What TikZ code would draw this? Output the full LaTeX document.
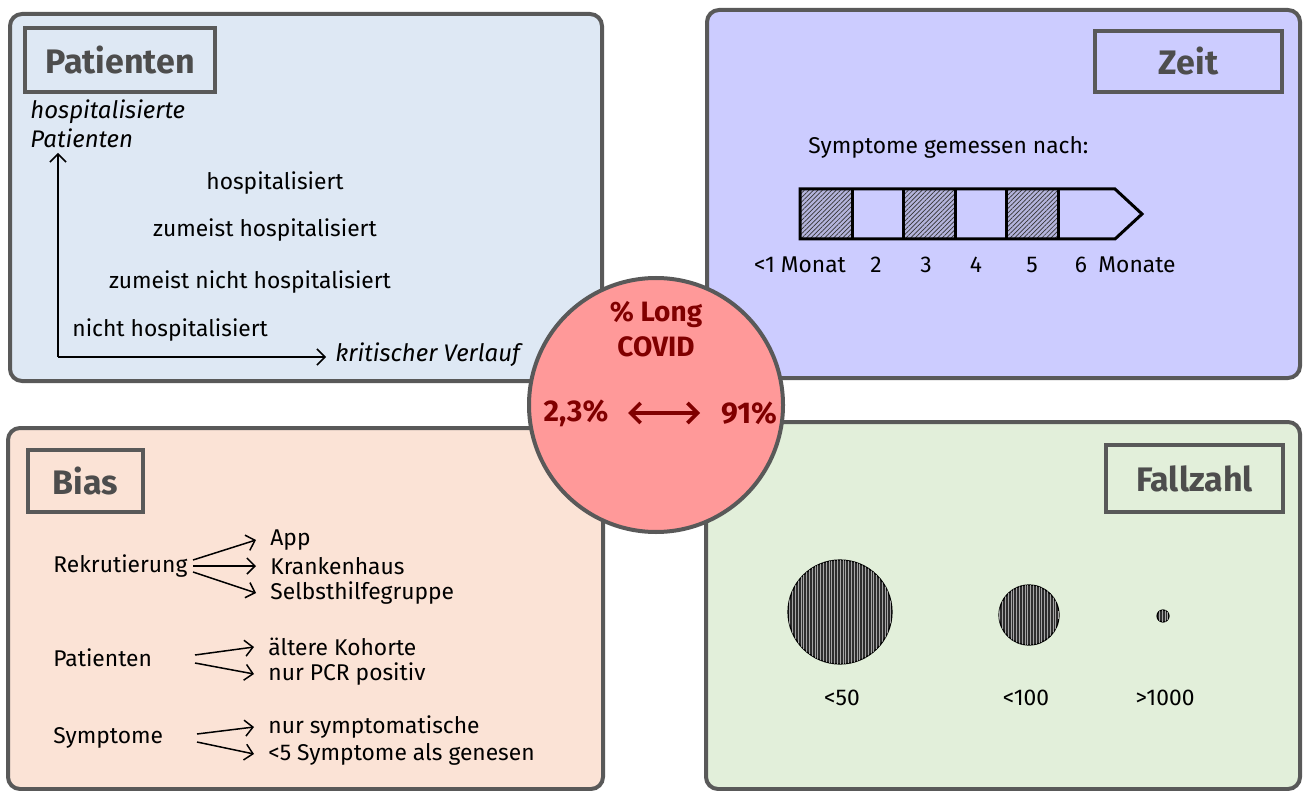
\documentclass[tikz,border=0pt]{standalone}
\usepackage{fontspec}
\setmainfont{Fira Sans}
\usetikzlibrary{patterns.meta,arrows.meta}
\definecolor{frame}{HTML}{595959}
\definecolor{pblue}{HTML}{DEE8F4}
\definecolor{pviolet}{HTML}{CCCCFF}
\definecolor{ppeach}{HTML}{FBE3D6}
\definecolor{pgreen}{HTML}{E2EFDA}
\definecolor{cred}{HTML}{FF9999}
\definecolor{dred}{HTML}{800000}
\definecolor{tgray}{HTML}{4D4D4D}
\definecolor{hatchfill}{HTML}{B4B4DC}
\tikzset{
  panel/.style={draw=frame, line width=2pt, rounded corners=6pt},
  titlebox/.style={draw=frame, line width=2pt, text=tgray, font=\fontsize{17}{20}\selectfont\bfseries, inner sep=0pt},
  txt/.style={font=\fontsize{11.4}{13}\selectfont, inner sep=0pt},
  itxt/.style={font=\fontsize{12}{14}\selectfont\itshape, inner sep=0pt},
  arr/.style={line width=0.75pt, -{Straight Barb[length=4pt,width=8pt]}},
  ctxt/.style={font=\fontsize{14}{16}\selectfont\bfseries, text=dred, inner sep=0pt},
  cell/.style={line width=1.5pt},
  hatch/.style={fill=hatchfill, postaction={pattern={Lines[angle=45,distance=1.6pt,line width=0.35pt]}, pattern color=black!80}},
  dotcirc/.style={circle, draw=black, line width=0.6pt, fill=black!82, inner sep=0pt,
    postaction={pattern={Lines[angle=90,distance=1.4pt,line width=0.3pt]}, pattern color=black!35}},
}
\begin{document}
\begin{tikzpicture}[x=0.5pt,y=-0.5pt]
\useasboundingbox (0,0) rectangle (1306,791);
% panels
\draw[panel, fill=pblue] (10,14) rectangle (602,381);
\draw[panel, fill=pviolet] (707,10) rectangle (1300,378);
\draw[panel, fill=ppeach] (8,428) rectangle (603,789);
\draw[panel, fill=pgreen] (706,422) rectangle (1300,789);
% titles
\node[titlebox, minimum width=95pt, minimum height=32pt] (tpat) at (120,60) {Patienten};
\node[titlebox, minimum width=93.5pt, minimum height=30.5pt] (tzeit) at (1188.5,61.5) {Zeit};
\node[titlebox, minimum width=57.5pt, minimum height=31pt] (tbias) at (85.5,481) {Bias};
\node[titlebox, minimum width=88.5pt, minimum height=33.5pt] (tfall) at (1194.5,478.5) {Fallzahl};
% Patienten panel
\node[itxt, anchor=west] (yl1) at (30,112) {hospitalisierte};
\node[itxt, anchor=west] (yl2) at (30,138) {Patienten};
\coordinate (o) at (58,357);
\coordinate (ytop) at (58,153);
\coordinate (xend) at (326,357);
\draw[arr] (o) -- (ytop);
\draw[arr] (o) -- (xend);
\node[itxt, anchor=west] (xl) at (335,355) {kritischer Verlauf};
\node[txt] (h1) at (275,183) {hospitalisiert};
\node[txt] (h2) at (265,230) {zumeist hospitalisiert};
\node[txt] (h3) at (250,282) {zumeist nicht hospitalisiert};
\node[txt, anchor=west] (h4) at (72,330) {nicht hospitalisiert};
% Zeit panel
\node[txt, anchor=west] (sym) at (808,147) {Symptome gemessen nach:};
\path[hatch] (800,189) rectangle (852,239);
\path[hatch] (903,189) rectangle (955,239);
\path[hatch] (1006,189) rectangle (1058,239);
\draw[cell] (800,189) -- (1115,189) -- (1142,214) -- (1115,239) -- (800,239) -- cycle;
\foreach \xx in {852,903,955,1006,1058} \draw[cell] (\xx,189) -- (\xx,239);
\node[txt] (m1) at (800,265) {<1 Monat};
\node[txt] (m2) at (876,265) {2};
\node[txt] (m3) at (926,265) {3};
\node[txt] (m4) at (976,265) {4};
\node[txt] (m5) at (1032,265) {5};
\node[txt] (m6) at (1081,265) {6};
\node[txt] (m7) at (1137,265) {Monate};
% Bias panel
\node[txt, anchor=west] (rek) at (53,566) {Rekrutierung};
\node[txt, anchor=west] (app) at (270,540) {App};
\node[txt, anchor=west] (kh) at (270,566) {Krankenhaus};
\node[txt, anchor=west] (shg) at (270,593) {Selbsthilfegruppe};
\coordinate (r0) at (193,566);
\draw[arr] ([yshift=3pt]r0) -- ([xshift=-7pt]app.west);
\draw[arr] (r0) -- ([xshift=-7pt]kh.west);
\draw[arr] ([yshift=-3pt]r0) -- ([xshift=-7pt]shg.west);
\node[txt, anchor=west] (bpat) at (53,658) {Patienten};
\node[txt, anchor=west] (alt) at (268,647) {ältere Kohorte};
\node[txt, anchor=west] (pcr) at (268,674) {nur PCR positiv};
\coordinate (p0) at (195,659);
\draw[arr] ([yshift=2pt]p0) -- ([xshift=-7pt]alt.west);
\draw[arr] ([yshift=-2pt]p0) -- ([xshift=-7pt]pcr.west);
\node[txt, anchor=west] (bsym) at (53,738) {Symptome};
\node[txt, anchor=west] (nsym) at (268,727) {nur symptomatische};
\node[txt, anchor=west] (gen) at (268,754) {<5 Symptome als genesen};
\coordinate (s0) at (197,738);
\draw[arr] ([yshift=2pt]s0) -- ([xshift=-7pt]nsym.west);
\draw[arr] ([yshift=-2pt]s0) -- ([xshift=-7pt]gen.west);
% Fallzahl panel
\node[dotcirc, minimum size=52pt] (c50) at (840,612) {};
\node[dotcirc, minimum size=30pt] (c100) at (1029,615) {};
\node[dotcirc, minimum size=6pt] (c1000) at (1163,616) {};
\node[txt] (l50) at (842,698) {<50};
\node[txt] (l100) at (1026,698) {<100};
\node[txt] (l1000) at (1165,698) {>1000};
% centre circle
\node[circle, draw=frame, line width=2pt, fill=cred, minimum size=127pt, inner sep=0pt] (cc) at (656,405) {};
\node[ctxt] (lc1) at (656,315) {\% Long};
\node[ctxt] (lc2) at (656,347) {COVID};
\node[ctxt, font=\fontsize{15}{17}\selectfont\bfseries] (lo) at (576,413) {2,3\%};
\node[ctxt, font=\fontsize{15}{17}\selectfont\bfseries] (hi) at (749,413) {91\%};
\coordinate (al) at (628,413);
\coordinate (ar) at (700,413);
\draw[dred, line width=1.8pt, {Straight Barb[length=5pt,width=10pt]}-{Straight Barb[length=5pt,width=10pt]}] (al) -- (ar);
\end{tikzpicture}
\end{document}
